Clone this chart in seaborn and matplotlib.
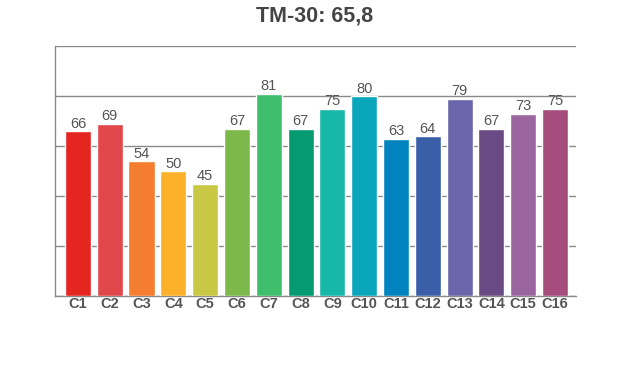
import matplotlib
matplotlib.use("Agg")
import matplotlib.pyplot as plt
import seaborn as sns
import pandas as pd

categories = ["C1", "C2", "C3", "C4", "C5", "C6", "C7", "C8",
              "C9", "C10", "C11", "C12", "C13", "C14", "C15", "C16"]
values = [66, 69, 54, 50, 45, 67, 81, 67, 75, 80, 63, 64, 79, 67, 73, 75]
colors = ["#e52620", "#e2474c", "#f47d2f", "#fbb12b", "#c9c844", "#7cb84a",
          "#3fbe6b", "#049b73", "#17b8a8", "#0aa6bb", "#0083bf", "#3a5fa8",
          "#6966ab", "#6a4a84", "#9b66a0", "#a54c7d"]
title = "TM-30: 65,8"

sns.set_style("white")
plt.rcParams["font.family"] = ["Liberation Sans", "DejaVu Sans"]

df = pd.DataFrame({"cat": categories, "val": values})
fig = plt.figure(figsize=(6.2, 3.7), dpi=100)
ax = fig.add_axes([55 / 620, 1 - 296 / 370, (576 - 55) / 620, (296 - 46) / 370])

sns.barplot(data=df, x="cat", y="val", hue="cat", palette=colors,
            legend=False, width=0.82, saturation=1, ax=ax, zorder=3)

ax.set_ylim(0, 100)
ax.set_xlim(-0.72, 15.66)
ax.set_yticks([0, 20, 40, 60, 80, 100])
ax.set_yticklabels([])
ax.tick_params(axis="y", length=0)
ax.tick_params(axis="x", length=0, pad=1)
ax.yaxis.grid(True, color="#8a8a8a", linewidth=1)
ax.set_axisbelow(True)
for s in ["top", "right"]:
    ax.spines[s].set_visible(False)
for s in ["left", "bottom"]:
    ax.spines[s].set_color("#8a8a8a")
    ax.spines[s].set_linewidth(1)
ax.set_xlabel("")
ax.set_ylabel("")
for lbl in ax.get_xticklabels():
    lbl.set_fontweight("bold")
    lbl.set_color("#555555")
    lbl.set_fontsize(10.5)

for i, v in enumerate(values):
    ax.text(i, v + 0.1, str(v), ha="center", va="bottom",
            fontsize=10.5, color="#555555", zorder=4)

fig.text(315 / 620, 1 - 16 / 370, title, ha="center", va="center",
         fontsize=15.5, fontweight="bold", color="#444444")

fig.savefig("out.png", dpi=100, facecolor="white")
